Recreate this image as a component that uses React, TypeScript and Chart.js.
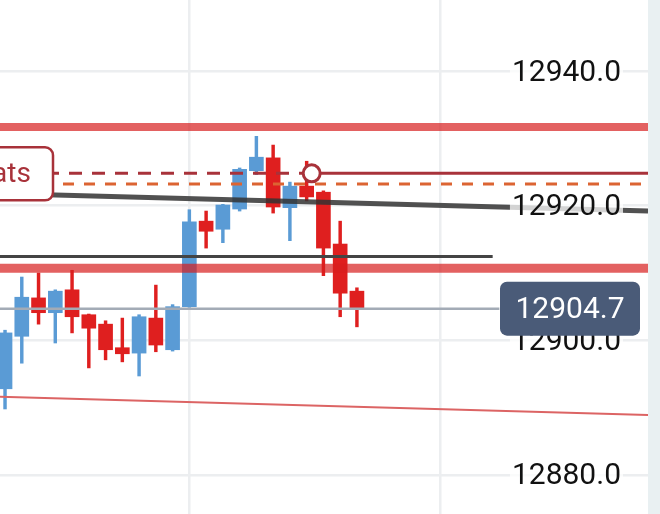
import React, { useEffect, useRef } from "react";
import { Chart, registerables } from "chart.js";

Chart.register(...registerables);

// ---- data ----
const candleIndex = [0, 1, 2, 3, 4, 5, 6, 7, 8, 9, 10, 11, 12, 13, 14, 15, 16, 17, 18, 19, 20, 21];
const opens = [12892.8, 12900.6, 12906.3, 12904.1, 12907.5, 12903.8, 12902.4, 12898.9, 12898.1, 12903.3, 12898.6, 12905.0, 12917.7, 12916.5, 12919.5, 12925.2, 12927.1, 12919.7, 12922.9, 12922.0, 12914.3, 12907.3];
const highs = [12901.5, 12909.4, 12910.0, 12907.5, 12910.4, 12903.9, 12902.9, 12903.3, 12903.8, 12908.2, 12905.3, 12919.4, 12919.2, 12920.2, 12925.6, 12930.3, 12929.0, 12923.5, 12926.6, 12922.2, 12917.7, 12907.8];
const lows = [12889.8, 12896.6, 12902.4, 12899.6, 12901.1, 12895.9, 12897.1, 12896.8, 12894.7, 12898.3, 12898.4, 12904.9, 12913.7, 12914.5, 12919.2, 12924.6, 12918.9, 12914.8, 12920.7, 12909.6, 12903.5, 12902.0];
const closes = [12901.1, 12906.4, 12904.1, 12907.3, 12903.5, 12901.8, 12898.6, 12898.0, 12903.5, 12899.3, 12905.0, 12917.6, 12916.2, 12920.1, 12925.4, 12927.2, 12919.8, 12922.9, 12921.3, 12913.7, 12907.0, 12904.7];

const xRange = [-0.3, 38.37];
const yRange = [12874.2, 12950.55];
const yTicks = [12880, 12900, 12920, 12940];
const xGridTicks = [11, 26];

const resistanceLevel = 12931.7;
const supportLevel = 12910.7;
const alertLevel = 12924.8;
const alertPointIndex = 18.3;
const orderLevel = 12923.2;
const trendUpper = [12921.8, 12919.2];
const trendLower = [12891.6, 12888.9];
const midLevel = 12912.45;
const midLevelEnd = 29.1;
const priceLineEnd = 29.5;
const alertLabel = "ats";

const BULL = "#5a9bd5";
const BEAR = "#df1f1f";

export default function App() {
  const ref = useRef<HTMLCanvasElement | null>(null);

  useEffect(() => {
    document.body.style.margin = "0";
    const canvas = ref.current;
    if (!canvas) return;

    const last = closes[closes.length - 1];
    const colors = candleIndex.map((_, i) => (closes[i] >= opens[i] ? BULL : BEAR));

    const overlay = {
      id: "overlay",
      beforeDraw(chart: any) {
        const { ctx, chartArea, width, height } = chart;
        ctx.save();
        ctx.fillStyle = "#ffffff";
        ctx.fillRect(0, 0, width, height);
        ctx.fillStyle = "#e9f0f2";
        ctx.fillRect(chartArea.right, 0, width - chartArea.right, height);
        ctx.restore();
      },
      afterDraw(chart: any) {
        const { ctx, chartArea } = chart;
        const ys = chart.scales.y;
        ctx.save();
        // price label
        const py = ys.getPixelForValue(last);
        const bw = 140, bh = 54;
        const bx = chartArea.right - 148;
        ctx.fillStyle = "#4a5b78";
        ctx.beginPath();
        (ctx as any).roundRect(bx, py - bh / 2, bw, bh, 7);
        ctx.fill();
        ctx.fillStyle = "#ffffff";
        ctx.font = "30px Roboto";
        ctx.textAlign = "center";
        ctx.textBaseline = "middle";
        ctx.fillText(last.toFixed(1), bx + bw / 2, py + 2);
        // alert label box
        const ay = ys.getPixelForValue(alertLevel);
        ctx.beginPath();
        (ctx as any).roundRect(-30, ay - 26, 83, 53, 8);
        ctx.fillStyle = "#ffffff";
        ctx.fill();
        ctx.lineWidth = 2.5;
        ctx.strokeStyle = "#a8323a";
        ctx.stroke();
        ctx.fillStyle = "#a8323a";
        ctx.font = "28px Roboto";
        ctx.textAlign = "left";
        ctx.fillText(alertLabel, -8, ay + 2);
        ctx.restore();
      },
    };

    const hline = (
      y0: number,
      y1: number,
      x0: number,
      x1: number,
      color: string,
      width: number,
      dash: number[] = []
    ) => ({
      type: "line" as const,
      data: [
        { x: x0, y: y0 },
        { x: x1, y: y1 },
      ],
      borderColor: color,
      borderWidth: width,
      borderDash: dash,
      pointRadius: 0,
      borderCapStyle: "butt" as const,
      order: 5,
    });

    const chart = new Chart(canvas, {
      type: "bar",
      data: {
        datasets: [
          {
            type: "line",
            data: [{ x: alertPointIndex, y: alertLevel }],
            showLine: false,
            pointRadius: 8.5,
            pointBorderWidth: 3,
            pointBorderColor: "#a8323a",
            pointBackgroundColor: "#ffffff",
            order: 1,
          } as any,
          hline(resistanceLevel, resistanceLevel, xRange[0], xRange[1], "rgba(215,30,30,0.7)", 8),
          hline(supportLevel, supportLevel, xRange[0], xRange[1], "rgba(215,30,30,0.7)", 9),
          hline(alertLevel, alertLevel, xRange[0], alertPointIndex, "#a8323a", 3, [13, 10]),
          hline(alertLevel, alertLevel, alertPointIndex, xRange[1], "#a8323a", 3),
          hline(orderLevel, orderLevel, xRange[0], xRange[1], "#dc6432", 3, [11, 10]),
          hline(trendUpper[0], trendUpper[1], xRange[0], xRange[1], "rgba(50,50,50,0.85)", 5),
          hline(midLevel, midLevel, xRange[0], midLevelEnd, "#444444", 3),
          hline(last, last, xRange[0], priceLineEnd, "#a3abb6", 2.5),
          hline(trendLower[0], trendLower[1], xRange[0], xRange[1], "#dc6464", 2),
          {
            type: "bar",
            data: candleIndex.map((x, i) => ({ x, y: [opens[i], closes[i]] })),
            backgroundColor: colors,
            barThickness: 14,
            grouped: false,
            order: 9,
          } as any,
          {
            type: "bar",
            data: candleIndex.map((x, i) => ({ x, y: [lows[i], highs[i]] })),
            backgroundColor: colors,
            barThickness: 2.8,
            grouped: false,
            order: 10,
          } as any,
        ],
      },
      options: {
        animation: false,
        responsive: true,
        maintainAspectRatio: false,
        layout: { autoPadding: false, padding: { left: 0, right: 12, top: 0, bottom: 0 } },
        plugins: { legend: { display: false }, tooltip: { enabled: false } },
        scales: {
          x: {
            type: "linear",
            min: xRange[0],
            max: xRange[1],
            offset: false,
            afterBuildTicks: (s: any) => {
              s.ticks = xGridTicks.map((v) => ({ value: v }));
            },
            ticks: { display: false },
            grid: { color: "#eceef0", lineWidth: 2.5, drawTicks: false, offset: false },
            border: { display: false },
          },
          y: {
            type: "linear",
            position: "right",
            min: yRange[0],
            max: yRange[1],
            afterBuildTicks: (s: any) => {
              s.ticks = yTicks.map((v) => ({ value: v }));
            },
            afterFit: (s: any) => {
              s.width = 0;
              s.paddingTop = 0;
              s.paddingBottom = 0;
            },
            ticks: {
              mirror: true,
              padding: -27,
              labelOffset: 2,
              z: 1,
              color: "#111111",
              font: { family: "Roboto", size: 30 },
              showLabelBackdrop: true,
              backdropColor: "rgba(255,255,255,0.75)",
              backdropPadding: { x: 2, y: 0 },
              callback: (v: any) => Number(v).toFixed(1),
            } as any,
            grid: { color: "#eceef0", lineWidth: 2.5, drawTicks: false },
            border: { display: false },
          },
        },
      },
      plugins: [overlay],
    });

    return () => chart.destroy();
  }, []);

  return (
    <div style={{ width: 660, height: 514, position: "relative" }}>
      <canvas ref={ref} />
    </div>
  );
}
